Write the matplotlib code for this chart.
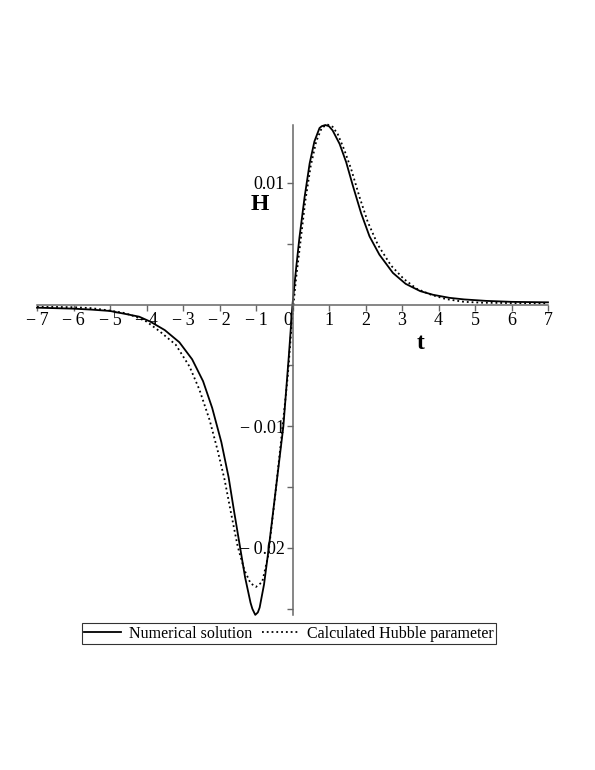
import matplotlib
matplotlib.use("Agg")
import matplotlib.pyplot as plt

plt.rcParams['font.family'] = ['Liberation Serif', 'DejaVu Serif']

# Numerical solution (solid)
t_num = [-7, -6.5, -6, -5.5, -5, -4.5, -4.2, -3.9, -3.5, -3.1, -2.75, -2.45, -2.2,
         -1.95, -1.75, -1.6, -1.45, -1.3, -1.15, -1.1, -1.02, -0.95, -0.9, -0.78,
         -0.65, -0.45, -0.25, -0.1, 0, 0.1, 0.19, 0.33, 0.47, 0.6, 0.74, 0.8, 0.9,
         1.0, 1.1, 1.29, 1.47, 1.65, 1.88, 2.11, 2.38, 2.75, 3.1, 3.5, 3.85, 4.3,
         4.7, 5.3, 6.0, 6.5, 7]
H_num = [-0.00026, -0.0003, -0.00034, -0.00042, -0.00053, -0.00082, -0.0010, -0.0014,
         -0.0021, -0.0031, -0.0045, -0.0063, -0.0085, -0.0113, -0.0142, -0.0170,
         -0.0197, -0.0224, -0.0245, -0.0250, -0.0255, -0.0253, -0.0249, -0.0230,
         -0.0200, -0.0150, -0.0100, -0.0042, 0.0, 0.0030, 0.0055, 0.0088, 0.0116,
         0.0134, 0.0145, 0.01465, 0.01475, 0.01465, 0.0143, 0.0132, 0.0117, 0.0098,
         0.0075, 0.0056, 0.0041, 0.0026, 0.0017, 0.0011, 0.0008, 0.00055, 0.00042,
         0.0003, 0.00022, 0.0002, 0.00018]

# Calculated Hubble parameter (dotted)
t_calc = [-7, -6.5, -6, -5.5, -5, -4.6, -4.3, -4.0, -3.64, -3.2, -2.82, -2.55, -2.27,
          -2.05, -1.86, -1.68, -1.5, -1.32, -1.15, -1.0, -0.83, -0.67, -0.49, -0.31,
          -0.13, 0.0, 0.1, 0.22, 0.35, 0.5, 0.65, 0.8, 0.95, 1.1, 1.24, 1.42, 1.61,
          1.84, 2.06, 2.34, 2.7, 3.05, 3.4, 3.8, 4.2, 4.7, 5.2, 6.0, 7]
H_calc = [-0.0002, -0.0002, -0.00022, -0.0003, -0.0005, -0.0007, -0.001, -0.0014,
          -0.0022, -0.0033, -0.0051, -0.0070, -0.0095, -0.0120, -0.0144, -0.0172,
          -0.0199, -0.0218, -0.0229, -0.0232, -0.0228, -0.0207, -0.0161, -0.0111,
          -0.0059, -0.0008, 0.0022, 0.0052, 0.0085, 0.0114, 0.0134, 0.0145, 0.0148,
          0.0146, 0.0140, 0.0127, 0.0111, 0.0088, 0.0068, 0.0049, 0.0032, 0.0021,
          0.0013, 0.0008, 0.00045, 0.00022, 0.00015, 0.00012, 0.0001]

x_ticks = list(range(-7, 8))
x_labels = ['\u2212\u2009' + str(-v) if v < 0 else str(v) for v in x_ticks]
y_ticks = [-0.02, -0.01, 0.01]
y_labels = ['\u2212\u20090.02', '\u2212\u20090.01', '0.01']
y_minor = [-0.025, -0.015, -0.005, 0.005]

fig = plt.figure(figsize=(5.95, 7.7), dpi=100)
ax = fig.add_axes([37 / 595, 1 - 615 / 770, 511 / 595, 490 / 770])

l1, = ax.plot(t_num, H_num, color='black', lw=1.3, clip_on=False)
l2, = ax.plot(t_calc, H_calc, color='black', lw=1.3, ls=':', clip_on=False)

ax.set_xlim(-7, 7)
ax.set_ylim(-0.02551, 0.01475)

axis_col = '#666666'
for s in ['top', 'right']:
    ax.spines[s].set_visible(False)
ax.spines['left'].set_position(('data', 0))
ax.spines['bottom'].set_position(('data', 0))
for s in ['left', 'bottom']:
    ax.spines[s].set_color(axis_col)
    ax.spines[s].set_linewidth(1.1)

ax.set_xticks(x_ticks)
ax.set_xticklabels(x_labels)
ax.set_yticks(y_ticks)
ax.set_yticklabels(y_labels)
ax.set_yticks(y_minor, minor=True)
ax.tick_params(axis='both', which='both', direction='out', color=axis_col,
               width=1.0, labelsize=13, labelcolor='black')
ax.tick_params(axis='both', which='major', length=4, pad=1.5)
ax.tick_params(axis='y', which='minor', length=4)
for lab in ax.get_xticklabels():
    if lab.get_text() == '0':
        lab.set_ha('right')

fig.text(260 / 595, 1 - 205 / 770, 'H', fontsize=17, fontweight='bold',
         ha='center', va='center')
fig.text(421 / 595, 1 - 344 / 770, 't', fontsize=17, fontweight='bold',
         ha='center', va='center')

leg = fig.legend([l1, l2], ['Numerical solution', 'Calculated Hubble parameter'],
                 loc='center', bbox_to_anchor=(289 / 595, 1 - 633.5 / 770), ncol=2,
                 fontsize=11.5, frameon=True, fancybox=False, edgecolor='black',
                 borderpad=0.15, handlelength=2.3, handletextpad=0.5,
                 columnspacing=0.6, borderaxespad=0)
leg.get_frame().set_linewidth(0.8)

fig.savefig('out.png', dpi=100)
